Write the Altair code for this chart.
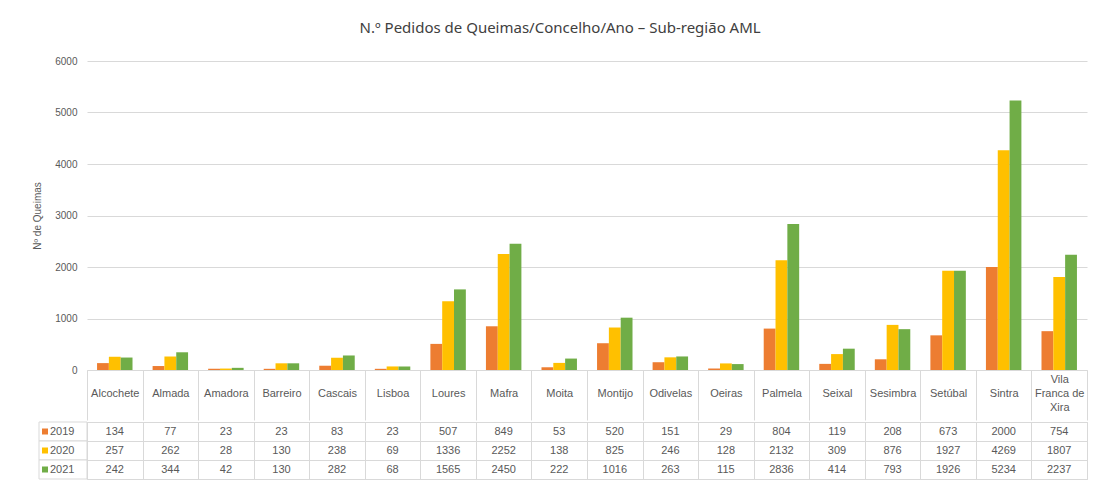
import altair as alt
import pandas as pd

categories = ["Alcochete", "Almada", "Amadora", "Barreiro", "Cascais", "Lisboa",
              "Loures", "Mafra", "Moita", "Montijo", "Odivelas", "Oeiras",
              "Palmela", "Seixal", "Sesimbra", "Setúbal", "Sintra",
              "Vila Franca de Xira"]
years = ["2019", "2020", "2021"]
v2019 = [134, 77, 23, 23, 83, 23, 507, 849, 53, 520, 151, 29, 804, 119, 208, 673, 2000, 754]
v2020 = [257, 262, 28, 130, 238, 69, 1336, 2252, 138, 825, 246, 128, 2132, 309, 876, 1927, 4269, 1807]
v2021 = [242, 344, 42, 130, 282, 68, 1565, 2450, 222, 1016, 263, 115, 2836, 414, 793, 1926, 5234, 2237]
colors = ["#ED7D31", "#FFC000", "#70AD47"]
y_ticks = [0, 1000, 2000, 3000, 4000, 5000, 6000]

rows = []
for yr, vals in zip(years, [v2019, v2020, v2021]):
    for c, v in zip(categories, vals):
        rows.append({"Concelho": c, "Ano": yr, "Valor": v})
df = pd.DataFrame(rows)
df_years = pd.DataFrame({"Ano": years})

FONT = "Liberation Sans"
TXT = "#595959"
GRID = "#d9d9d9"
W = 1000
H = 309
HDR = 50

color_scale = alt.Scale(domain=years, range=colors)
x_scale = alt.Scale(domain=categories, paddingInner=0, paddingOuter=0)

bars = alt.Chart(df).mark_bar().encode(
    x=alt.X("Concelho:N", sort=categories, scale=x_scale,
            axis=alt.Axis(title=None, labelAngle=0, tickBand="extent",
                          tickSize=HDR, tickColor=GRID,
                          domainColor=GRID, labelPadding=-41,
                          labelBaseline="middle", labelLineHeight=14,
                          labelColor=TXT, labelFontSize=11, labelFont=FONT,
                          minExtent=HDR, maxExtent=HDR,
                          labelExpr="datum.value == 'Vila Franca de Xira' ? ['Vila', 'Franca de', 'Xira'] : ['', datum.value]")),
    xOffset=alt.XOffset("Ano:N", sort=years,
                        scale=alt.Scale(paddingInner=0, paddingOuter=0.85)),
    y=alt.Y("Valor:Q", scale=alt.Scale(domain=[0, 6000], nice=False),
            axis=alt.Axis(values=y_ticks, format="d", title="Nº de Queimas",
                          domain=False, ticks=False, gridColor=GRID,
                          labelColor=TXT, labelFontSize=10, labelFont=FONT,
                          labelPadding=10, titleColor=TXT, titleFontSize=10,
                          titleFont=FONT, titleFontWeight="normal",
                          titlePadding=12)),
    color=alt.Color("Ano:N", scale=color_scale, legend=None),
)

top = bars.properties(width=W, height=H, view=alt.ViewBackground(stroke=None))

y_rows = alt.Y("Ano:N", sort=years, scale=alt.Scale(paddingInner=0, paddingOuter=0),
               axis=alt.Axis(title=None, labels=False, ticks=False, domain=False,
                             grid=True, gridColor=GRID, tickBand="extent"))

cells = alt.Chart(df).mark_text(font=FONT, fontSize=11, color=TXT).encode(
    x=alt.X("Concelho:N", sort=categories, scale=x_scale,
            axis=alt.Axis(title=None, labels=False, ticks=False, domain=False,
                          grid=True, gridColor=GRID, tickBand="extent")),
    y=y_rows,
    text=alt.Text("Valor:Q"),
)

legend_box = alt.Chart(df_years).mark_rect(fill="white", stroke=GRID, strokeWidth=1).encode(
    x=alt.value(-48), x2=alt.value(0), y=y_rows
)
legend_sq = alt.Chart(df_years).mark_square(size=36, opacity=1).encode(
    x=alt.value(-42), y=y_rows,
    color=alt.Color("Ano:N", scale=color_scale, legend=None)
)
legend_txt = alt.Chart(df_years).mark_text(font=FONT, fontSize=11, color=TXT, align="left").encode(
    x=alt.value(-37), y=y_rows, text="Ano:N"
)

table = alt.layer(cells, legend_box, legend_sq, legend_txt).properties(
    width=W, height=57, view=alt.ViewBackground(stroke=GRID))

chart = alt.vconcat(top, table, spacing=0).properties(
    title=alt.TitleParams("N.º Pedidos de Queimas/Concelho/Ano – Sub-região AML",
                          font="Noto Sans", fontSize=15, fontWeight="normal",
                          color="#404040", anchor="middle", offset=20),
    padding={"left": 24, "top": 13, "right": 0, "bottom": 0},
).configure_concat(spacing=0)

chart.save("out.html", embed_options={"renderer": "svg", "actions": False})
